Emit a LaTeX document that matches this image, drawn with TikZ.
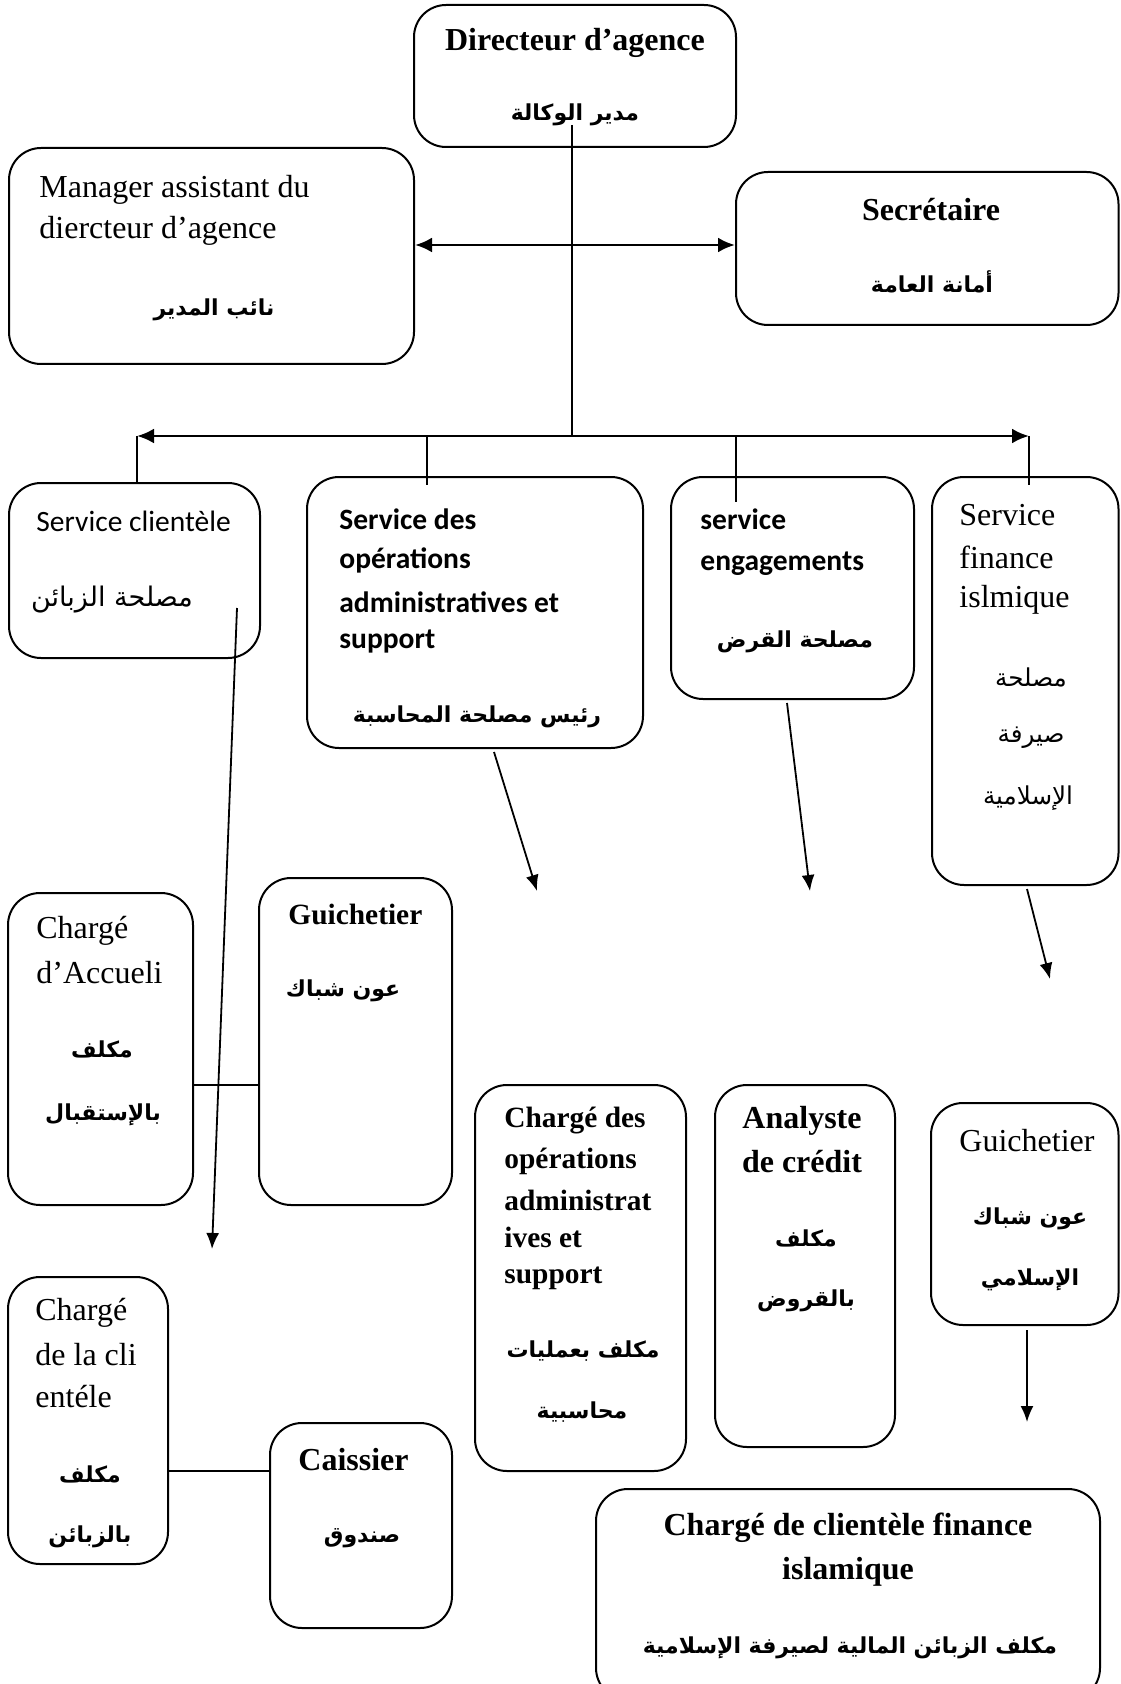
\documentclass[tikz,border=0pt]{standalone}
\usepackage{fontspec}
\setmainfont{Liberation Serif}
\newfontfamily\calibri{Carlito}
\newfontfamily\arabicfont[Script=Arabic]{DejaVu Sans}
\TeXXeTstate=1
\usetikzlibrary{arrows.meta,fit}
\tikzset{
  box/.style={draw, line width=1pt, rounded corners=16pt, inner sep=0pt},
  lr/.style={inner sep=0pt, font=\fontsize{16}{19}\selectfont},
  lb/.style={inner sep=0pt, font=\fontsize{16}{19}\selectfont\bfseries},
  lbs/.style={inner sep=0pt, font=\fontsize{14.7}{18}\selectfont\bfseries},
  cr/.style={inner sep=0pt, font=\calibri\fontsize{14.75}{18}\selectfont},
  cb/.style={inner sep=0pt, font=\calibri\fontsize{14.75}{18}\selectfont\bfseries},
  ar/.style={inner sep=0pt, font=\arabicfont\fontsize{12.3}{14}\selectfont},
  arc/.style={inner sep=0pt, font=\arabicfont\fontsize{13.5}{15}\selectfont},
  ab/.style={inner sep=0pt, font=\arabicfont\fontsize{11}{14}\selectfont\bfseries},
  arr/.style={line width=0.9pt, -{Latex[length=8pt,width=6.5pt]}},
  dbl/.style={line width=1.4pt, {Latex[length=8.5pt,width=7.5pt]}-{Latex[length=8.5pt,width=7.5pt]}},
  ln/.style={line width=0.7pt}
}
\begin{document}
\begin{tikzpicture}[x=0.5pt,y=-0.5pt]
\useasboundingbox (0,0) rectangle (1120,1684);
% boxes
\node[box, fit={(414,5) (736,147)}] (dir) {};
\node[box, fit={(9,148) (414,364)}] (mgr) {};
\node[box, fit={(736,172) (1118.5,325)}] (sec) {};
\node[box, fit={(9,483) (260,658)}] (sc) {};
\node[box, fit={(307,477) (643,748)}] (sop) {};
\node[box, fit={(671,477) (914,699)}] (sen) {};
\node[box, fit={(932,477) (1118.5,885)}] (sfi) {};
\node[box, fit={(8,893) (193,1205)}] (acc) {};
\node[box, fit={(259,878) (452,1205)}] (gui) {};
\node[box, fit={(8,1277) (168,1564)}] (ccl) {};
\node[box, fit={(270,1423) (452,1628)}] (cai) {};
\node[box, fit={(475,1085) (686,1471)}] (cop) {};
\node[box, fit={(715,1085) (895,1447)}] (ana) {};
\node[box, fit={(931,1103) (1118.5,1325)}] (gis) {};
\node[box, fit={(596,1489) (1100,1700)}] (cfi) {};
% texts
\node[lb] (t1) at (575,43) {Directeur d’agence};
\node[ab] (t2) at (575,115) {\beginR مدير الوكالة\endR};
\node[lr, anchor=west] (t3) at (39,190) {Manager assistant du};
\node[lr, anchor=west] (t4) at (39,231) {diercteur d’agence};
\node[ab] (t5) at (214,310) {\beginR نائب المدير\endR};
\node[lb] (t6) at (931,210) {Secrétaire};
\node[ab] (t7) at (932,282) {\beginR أمانة العامة\endR};
\node[cr, anchor=west] (t8) at (36,521) {Service clientèle};
\node[arc] (t9) at (112,600) {\beginR مصلحة الزبائن\endR};
\node[cb, anchor=west] (t10) at (339,519) {Service des};
\node[cb, anchor=west] (t11) at (339,560) {opérations};
\node[cb, anchor=west] (t12) at (339,602) {administratives et};
\node[cb, anchor=west] (t13) at (339,642) {support};
\node[ab] (t14) at (477,717) {\beginR رئيس مصلحة المحاسبة\endR};
\node[cb, anchor=west] (t15) at (700,519) {service};
\node[cb, anchor=west] (t16) at (700,564) {engagements};
\node[ab] (t17) at (795,642) {\beginR مصلحة القرض\endR};
\node[lr, anchor=west] (t18) at (959,515) {Service};
\node[lr, anchor=west] (t19) at (959,557) {finance};
\node[lr, anchor=west] (t20) at (959,600) {islmique};
\node[ar] (t21) at (1031,677) {\beginR مصلحة\endR};
\node[ar] (t22) at (1031,738) {\beginR صيرفة\endR};
\node[ar] (t23) at (1028,798) {\beginR الإسلامية\endR};
\node[lr, anchor=west] (t24) at (36,931) {Chargé};
\node[lr, anchor=west] (t25) at (36,973) {d’Accueli};
\node[ab] (t26) at (102,1049) {\beginR مكلف\endR};
\node[ab] (t27) at (103,1115) {\beginR بالإستقبال\endR};
\node[lbs, anchor=west] (t28) at (288,914) {Guichetier};
\node[ab] (t29) at (343,991) {\beginR عون شباك\endR};
\node[lr, anchor=west] (t30) at (35,1313) {Chargé};
\node[lr, anchor=west] (t31) at (35,1355) {de la cli};
\node[lr, anchor=west] (t32) at (35,1397) {entéle};
\node[ab] (t33) at (90,1474) {\beginR مكلف\endR};
\node[ab] (t34) at (90,1537) {\beginR بالزبائن\endR};
\node[lb, anchor=west] (t35) at (298,1460) {Caissier};
\node[ab] (t36) at (362,1538) {\beginR صندوق\endR};
\node[lbs, anchor=west] (t37) at (504,1121) {Chargé des};
\node[lbs, anchor=west] (t38) at (504,1161) {opérations};
\node[lbs, anchor=west] (t39) at (504,1200) {administrat};
\node[lbs, anchor=west] (t40) at (504,1237) {ives et};
\node[lbs, anchor=west] (t41) at (504,1278) {support};
\node[ab] (t42) at (583,1351) {\beginR مكلف بعمليات\endR};
\node[ab] (t43) at (582,1412) {\beginR محاسبية\endR};
\node[lb] (t44) at (802,1121) {Analyste};
\node[lb] (t45) at (802,1162) {de crédit};
\node[ab] (t46) at (806,1238) {\beginR مكلف\endR};
\node[ab] (t47) at (806,1301) {\beginR بالقروض\endR};
\node[lr] (t48) at (1027,1141) {Guichetier};
\node[ab] (t49) at (1030,1219) {\beginR عون شباك\endR};
\node[ab] (t50) at (1030,1280) {\beginR الإسلامي\endR};
\node[lb] (t51) at (848,1528) {Chargé de clientèle finance};
\node[lb] (t52) at (848,1572) {islamique};
\node[ab] (t53) at (850,1648) {\beginR مكلف الزبائن المالية لصيرفة الإسلامية\endR};
% connector coordinates
\coordinate (dtop) at (572,125);
\coordinate (mid) at (572,245);
\coordinate (busc) at (572,436);
\coordinate (busL) at (137,436);
\coordinate (busR) at (1029,436);
\coordinate (bop) at (427,436);
\coordinate (ben) at (736,436);
\coordinate (a1s) at (237,608);
\coordinate (a1e) at (212,1249);
\coordinate (a2s) at (494,752);
\coordinate (a2e) at (537,891);
\coordinate (a3s) at (787,703);
\coordinate (a3e) at (810,891);
\coordinate (a4s) at (1027,889);
\coordinate (a4e) at (1050,979);
\coordinate (a5s) at (1027,1330);
\coordinate (a5e) at (1027,1422);
% connectors
\draw[ln] (dtop) -- (busc);
\draw[dbl] (mgr.east |- mid) -- (sec.west |- mid);
\draw[dbl] (busL) -- (busR);
\draw[ln] (busL) -- (busL |- sc.north);
\draw[ln] (bop) -- ++(0,49);
\draw[ln] (ben) -- ++(0,66);
\draw[ln] (busR) -- ++(0,49);
\draw[arr] (a1s) -- (a1e);
\draw[arr] (a2s) -- (a2e);
\draw[arr] (a3s) -- (a3e);
\draw[arr] (a4s) -- (a4e);
\draw[arr] (a5s) -- (a5e);
\draw[ln] (acc.east |- 0,1085) -- (gui.west |- 0,1085);
\draw[ln] (ccl.east |- 0,1471) -- (cai.west |- 0,1471);
\end{tikzpicture}
\end{document}
